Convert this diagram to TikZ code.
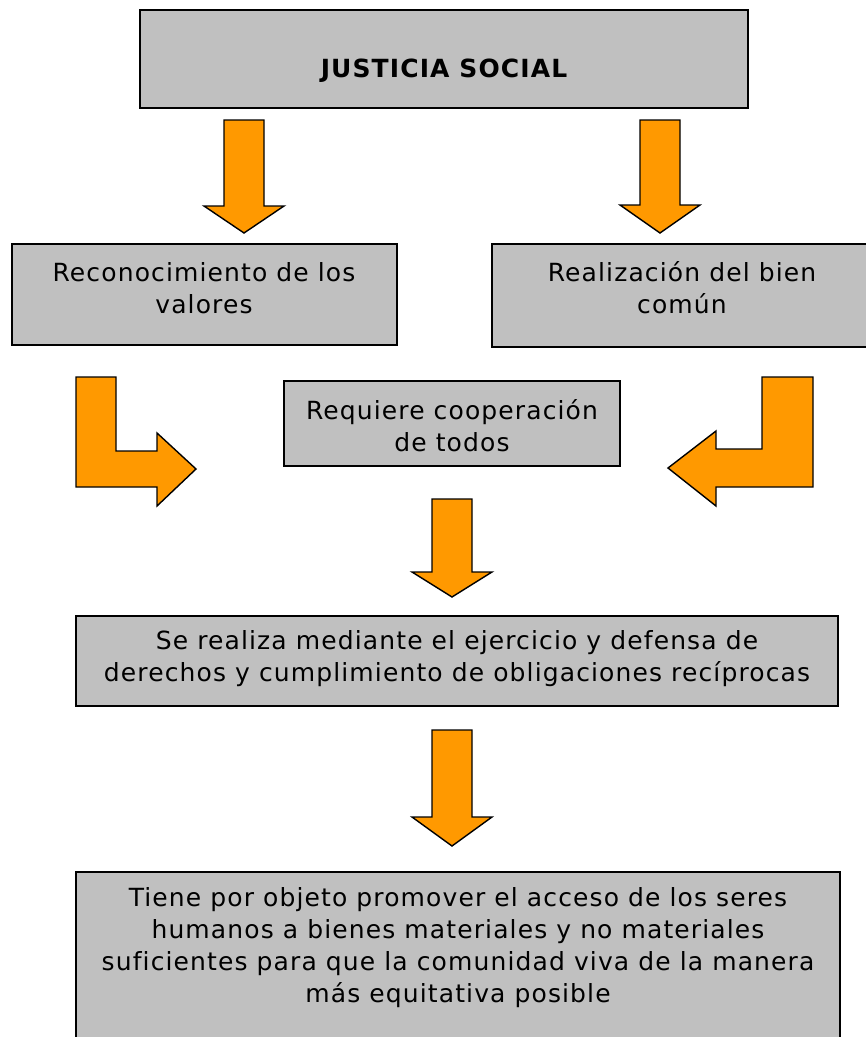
\documentclass[tikz,border=0pt]{standalone}
\usepackage{fontspec}
\setmainfont[LetterSpace=4.5, Ligatures=NoCommon]{DejaVu Sans}
\definecolor{boxgray}{HTML}{C0C0C0}
\definecolor{arroworange}{HTML}{FF9900}

\begin{document}
\begin{tikzpicture}[
  x = 1pt, y = -1pt,
  box/.style = {draw, fill=boxgray, line width=1.4pt, inner sep=0pt},
  boxtext/.style = {align=center, inner sep=0pt,
                    font=\fontsize{25}{32}\selectfont},
  blockarrow/.style = {draw, fill=arroworange, line width=1.4pt, line join=miter},
]
\useasboundingbox (0,0) rectangle (866,1037);

% boxes: drawn as empty frames, the text sits a little above their middle
\node[box, minimum width=608pt, minimum height=98pt]  (title)       at (444,59)    {};
\node[box, minimum width=385pt, minimum height=101pt] (valores)     at (204.5,294.5) {};
\node[box, minimum width=380pt, minimum height=103pt] (biencomun)   at (682,295.5) {};
\node[box, minimum width=336pt, minimum height=85pt]  (cooperacion) at (452,423.5) {};
\node[box, minimum width=762pt, minimum height=90pt]  (derechos)    at (457,661)   {};
\node[box, minimum width=764pt, minimum height=190pt] (objeto)      at (458,967)   {};

\node[boxtext, font=\fontsize{25}{32}\selectfont\bfseries] (title-t) at (444,71) {JUSTICIA SOCIAL};
\node[boxtext] (valores-t)     at (204,288) {Reconocimiento de los\\valores};
\node[boxtext] (biencomun-t)   at (682,288) {Realización del bien\\común};
\node[boxtext] (cooperacion-t) at (452,426) {Requiere cooperación\\de todos};
\node[boxtext] (derechos-t)    at (457,659) {Se realiza mediante el ejercicio y defensa de\\derechos y cumplimiento de obligaciones recíprocas};
\node[boxtext] (objeto-t)      at (458,948) {Tiene por objeto promover el acceso de los seres\\humanos a bienes materiales y no materiales\\suficientes para que la comunidad viva de la manera\\más equitativa posible};

% straight block arrows: centre x / top / start of head / tip
\foreach \cx/\ytop/\yhead/\ytip in {244/120/206/233, 660/120/205/233,
                                    452/499/572/597, 452/730/817/846}
  \path[blockarrow] (\cx-20,\ytop) -- (\cx+20,\ytop) -- (\cx+20,\yhead)
    -- (\cx+40,\yhead) -- (\cx,\ytip) -- (\cx-40,\yhead) -- (\cx-20,\yhead) -- cycle;

% bent arrows towards the middle box
\path[blockarrow] (76,377) -- (116,377) -- (116,451) -- (157,451) -- (157,433)
  -- (196,469) -- (157,506) -- (157,487) -- (76,487) -- cycle;
\path[blockarrow] (813,377) -- (762,377) -- (762,449) -- (716,449) -- (716,431)
  -- (668,468) -- (716,506) -- (716,487) -- (813,487) -- cycle;

\end{tikzpicture}
\end{document}
